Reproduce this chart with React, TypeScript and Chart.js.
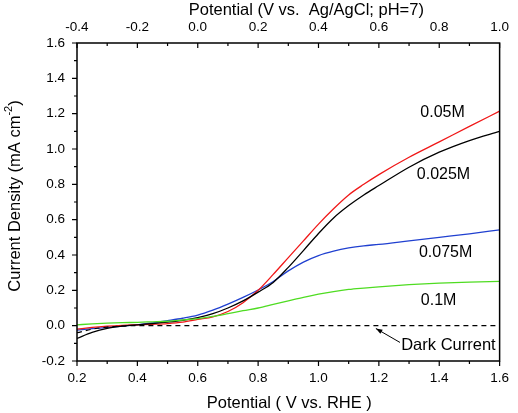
import React, { useEffect, useRef } from 'react';
import { Chart, registerables } from 'chart.js';

Chart.register(...registerables);

// Potential vs. RHE (V)
const potentialRHE = [
  0.2, 0.25, 0.3, 0.35, 0.4, 0.45, 0.5, 0.55, 0.6, 0.65, 0.7, 0.75, 0.8,
  0.85, 0.9, 0.95, 1.0, 1.05, 1.1, 1.15, 1.2, 1.3, 1.4, 1.5, 1.6,
];
// Current density (mA cm^-2)
const j005M = [
  -0.02, -0.01, -0.003, 0.002, 0.005, 0.008, 0.012, 0.02, 0.035, 0.05, 0.08, 0.13, 0.2,
  0.29, 0.385, 0.48, 0.575, 0.662, 0.74, 0.8, 0.855, 0.953, 1.04, 1.128, 1.214,
];
const j0025M = [
  -0.072, -0.038, -0.015, -0.003, 0.005, 0.012, 0.02, 0.03, 0.045, 0.068, 0.1, 0.14, 0.19,
  0.245, 0.33, 0.425, 0.522, 0.61, 0.68, 0.74, 0.793, 0.897, 0.982, 1.048, 1.1,
];
const j0075M = [
  -0.025, -0.017, -0.01, -0.002, 0.006, 0.015, 0.028, 0.042, 0.06, 0.088, 0.122, 0.16, 0.202,
  0.25, 0.31, 0.36, 0.397, 0.422, 0.44, 0.452, 0.46, 0.48, 0.5, 0.52, 0.542,
];
const j01M = [
  0.005, 0.01, 0.014, 0.017, 0.019, 0.022, 0.025, 0.032, 0.04, 0.052, 0.068, 0.085, 0.1,
  0.12, 0.14, 0.16, 0.178, 0.193, 0.205, 0.213, 0.22, 0.232, 0.241, 0.247, 0.251,
];
const jDark = [
  -0.04, -0.02, -0.008, -0.002, 0, 0, 0, 0, 0, 0, 0, 0, 0,
  0, 0, 0, 0, 0, 0, 0, 0, 0, 0, 0, 0,
];
const seriesNames = ['0.05M', '0.025M', '0.075M', '0.1M', 'Dark Current'];

const FONT = '"Liberation Sans", Arial, Helvetica, sans-serif';

// annotation anchors in data coordinates (V vs RHE, mA cm^-2)
const labelAnchors = [
  { text: seriesNames[0], x: 1.411, y: 1.207 },
  { text: seriesNames[1], x: 1.414, y: 0.855 },
  { text: seriesNames[2], x: 1.421, y: 0.414 },
  { text: seriesNames[3], x: 1.398, y: 0.142 },
];
const darkLabel = { text: seriesNames[4], x: 1.274, y: -0.113 };
const arrowFrom = { x: 1.27, y: -0.095 };
const arrowTo = { x: 1.19, y: -0.016 };

const fmt = (v: number | string) => {
  const n = Number(v);
  if (Math.abs(n) < 1e-9) return '0.0';
  return n.toFixed(1);
};

export default function App() {
  const ref = useRef<HTMLCanvasElement>(null);

  useEffect(() => {
    document.body.style.margin = '0';
    const canvas = ref.current;
    if (!canvas) return;
    const pts = (ys: number[]) => potentialRHE.map((x, i) => ({ x, y: ys[i] }));

    const overlay = {
      id: 'overlay',
      afterDatasetsDraw(chart: any) {
        const { ctx, chartArea: a, scales } = chart;
        const sx = scales.x;
        const sy = scales.y;
        const sx2 = scales.x2;
        ctx.save();
        // frame
        ctx.strokeStyle = '#000';
        ctx.lineWidth = 1.5;
        ctx.strokeRect(a.left, a.top, a.right - a.left, a.bottom - a.top);
        // ticks
        ctx.lineWidth = 1.2;
        ctx.beginPath();
        for (let i = 0; i <= 14; i++) {
          const px = sx.getPixelForValue(0.2 + i * 0.1);
          const L = i % 2 === 0 ? 5 : 3;
          ctx.moveTo(px, a.bottom);
          ctx.lineTo(px, a.bottom + L);
        }
        for (let i = 0; i <= 14; i++) {
          const px = sx2.getPixelForValue(-0.4 + i * 0.1);
          const L = i % 2 === 0 ? 5 : 3;
          ctx.moveTo(px, a.top);
          ctx.lineTo(px, a.top + L);
        }
        for (let i = 0; i <= 18; i++) {
          const py = sy.getPixelForValue(-0.2 + i * 0.1);
          const L = i % 2 === 0 ? 5 : 3;
          ctx.moveTo(a.left, py);
          ctx.lineTo(a.left - L, py);
        }
        ctx.stroke();

        // series labels
        ctx.fillStyle = '#000';
        ctx.font = `16px ${FONT}`;
        ctx.textAlign = 'center';
        ctx.textBaseline = 'middle';
        for (const l of labelAnchors) {
          ctx.fillText(l.text, sx.getPixelForValue(l.x), sy.getPixelForValue(l.y));
        }
        ctx.font = `16.5px ${FONT}`;
        ctx.textAlign = 'left';
        ctx.fillText(darkLabel.text, sx.getPixelForValue(darkLabel.x), sy.getPixelForValue(darkLabel.y));

        // arrow
        const x0 = sx.getPixelForValue(arrowFrom.x);
        const y0 = sy.getPixelForValue(arrowFrom.y);
        const x1 = sx.getPixelForValue(arrowTo.x);
        const y1 = sy.getPixelForValue(arrowTo.y);
        ctx.lineWidth = 1;
        ctx.beginPath();
        ctx.moveTo(x0, y0);
        ctx.lineTo(x1, y1);
        ctx.stroke();
        const ang = Math.atan2(y1 - y0, x1 - x0);
        const hl = 7;
        const hw = 0.35;
        ctx.beginPath();
        ctx.moveTo(x1, y1);
        ctx.lineTo(x1 - hl * Math.cos(ang - hw), y1 - hl * Math.sin(ang - hw));
        ctx.lineTo(x1 - hl * Math.cos(ang + hw), y1 - hl * Math.sin(ang + hw));
        ctx.closePath();
        ctx.fill();

        // axis titles
        ctx.font = `16.5px ${FONT}`;
        ctx.textAlign = 'center';
        ctx.textBaseline = 'middle';
        const cx = (a.left + a.right) / 2;
        ctx.fillText('Potential (V vs.  Ag/AgCl; pH=7)', cx + 18, 10);
        ctx.fillText('Potential ( V vs. RHE )', cx + 1, 403);

        // y title with superscript
        const main = 'Current Density (mA cm';
        const sup = '-2';
        const tail = ')';
        ctx.font = `16.5px ${FONT}`;
        const wMain = ctx.measureText(main).width;
        const wTail = ctx.measureText(tail).width;
        ctx.font = `11px ${FONT}`;
        const wSup = ctx.measureText(sup).width;
        const total = wMain + wSup + wTail;
        ctx.translate(15, (a.top + a.bottom) / 2 - 6);
        ctx.rotate(-Math.PI / 2);
        ctx.textAlign = 'left';
        ctx.textBaseline = 'middle';
        let x = -total / 2;
        ctx.font = `16.5px ${FONT}`;
        ctx.fillText(main, x, 0);
        x += wMain;
        ctx.font = `11px ${FONT}`;
        ctx.fillText(sup, x, -6);
        x += wSup;
        ctx.font = `16.5px ${FONT}`;
        ctx.fillText(tail, x, 0);
        ctx.restore();
      },
    };

    const tickFont = { family: FONT, size: 13.5 };
    const noGrid = { display: false, drawTicks: false };
    const chart = new Chart(canvas, {
      type: 'line',
      data: {
        datasets: [
          { label: seriesNames[4], data: pts(jDark), borderColor: '#000', borderWidth: 1.2, borderDash: [5, 4] },
          { label: seriesNames[3], data: pts(j01M), borderColor: '#4fdc22', borderWidth: 1.3 },
          { label: seriesNames[1], data: pts(j0025M), borderColor: '#000000', borderWidth: 1.3 },
          { label: seriesNames[0], data: pts(j005M), borderColor: '#f01818', borderWidth: 1.3 },
          { label: seriesNames[2], data: pts(j0075M), borderColor: '#2040d0', borderWidth: 1.3 },
        ].map((d) => ({ ...d, pointRadius: 0, fill: false, cubicInterpolationMode: 'monotone' as const })),
      },
      options: {
        responsive: false,
        animation: false,
        events: [],
        layout: { padding: { left: 0, right: 10, top: 0, bottom: 0 } },
        plugins: { legend: { display: false }, tooltip: { enabled: false } },
        scales: {
          x: {
            type: 'linear',
            position: 'bottom',
            min: 0.2,
            max: 1.6,
            grid: noGrid,
            border: { display: false },
            ticks: { stepSize: 0.2, font: tickFont, color: '#000', padding: 9, callback: fmt, maxRotation: 0 },
            afterFit: (s: any) => { s.height = 52; },
          },
          x2: {
            type: 'linear',
            position: 'top',
            min: -0.4,
            max: 1.0,
            grid: noGrid,
            border: { display: false },
            ticks: { stepSize: 0.2, font: tickFont, color: '#000', padding: 8, callback: fmt, maxRotation: 0 },
            afterFit: (s: any) => { s.height = 43; },
          },
          y: {
            type: 'linear',
            position: 'left',
            min: -0.2,
            max: 1.6,
            grid: noGrid,
            border: { display: false },
            ticks: { stepSize: 0.2, font: tickFont, color: '#000', padding: 12, callback: fmt },
            afterFit: (s: any) => { s.width = 77; },
          },
        },
      },
      plugins: [overlay],
    } as any);
    return () => chart.destroy();
  }, []);

  return (
    <canvas ref={ref} width={518} height={413} style={{ display: 'block', width: 518, height: 413 }} />
  );
}
